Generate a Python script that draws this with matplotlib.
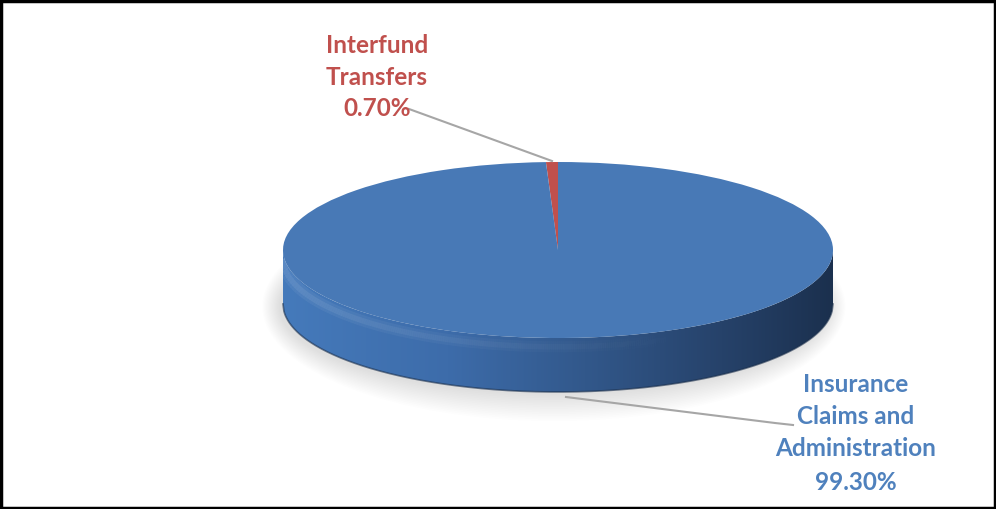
import numpy as np
import matplotlib.pyplot as plt
from matplotlib.patches import Polygon, Rectangle, Ellipse
from matplotlib.colors import to_rgb
from matplotlib.collections import LineCollection

# ---- data ----
names = [["Interfund", "Transfers"], ["Insurance", "Claims and", "Administration"]]
shares = [0.70, 99.30]
slice_colors = ["#c0504d", "#4879b6"]
label_colors = ["#c0504d", "#4f81bd"]

W, H = 996, 509
fig = plt.figure(figsize=(W / 100, H / 100), dpi=100)
fig.set_facecolor("white")

# pie ellipse in pixels (centre, half axes, thickness of the side)
cx, cy = 558, 250
rx, ry = 275, 88
depth = 54

xlim = (-1.05, 1.05)
ylim = (-1.85, 1.0)
l_px = cx + xlim[0] * rx
r_px = cx + xlim[1] * rx
t_px = cy - ylim[1] * ry
b_px = cy - ylim[0] * ry
ax = fig.add_axes([l_px / W, 1 - b_px / H, (r_px - l_px) / W, (b_px - t_px) / H])

t = depth / ry
xs = np.linspace(-1, 1, 600)
front = -np.sqrt(1 - xs ** 2)

# soft shadow under the disc
for k in range(16):
    sh = Ellipse((-0.015, -t - 0.03), 2 * (1.0 + 0.004 * k), 2 * (1.0 + 0.02 * k),
                 facecolor="#9a9a9a", edgecolor="none", alpha=0.016,
                 zorder=0, clip_on=False)
    ax.add_patch(sh)

# side of the disc with a left-to-right gradient
band = Polygon(np.column_stack([np.concatenate([xs, xs[::-1]]),
                                np.concatenate([front, front[::-1] - t])]),
               closed=True, facecolor="white", edgecolor="none", zorder=0.5)
ax.add_patch(band)
stops = [(0.0, "#457abb"), (0.3, "#3d6caa"), (0.55, "#32588b"),
         (0.8, "#26426a"), (1.0, "#1b304e")]
u = np.linspace(0, 1, 256)
img = np.zeros((2, 256, 3))
for c in range(3):
    img[:, :, c] = np.interp(u, [s[0] for s in stops], [to_rgb(s[1])[c] for s in stops])
im = ax.imshow(img, extent=(-1, 1, -1 - t, 0), aspect="auto", zorder=1,
               interpolation="bilinear")
im.set_clip_path(band)

# rounded rim highlight and dark bottom edge
seg_x = np.linspace(-1, 0.5, 200)
for off, lw, amax in [(0.10, 8, 0.06), (0.10, 4, 0.08)]:
    pts = np.column_stack([seg_x, -np.sqrt(1 - seg_x ** 2) - off])
    segs = np.stack([pts[:-1], pts[1:]], axis=1)
    alphas = np.clip(amax * (0.5 - seg_x[:-1]) / 1.5, 0, 1)
    ax.add_collection(LineCollection(segs, colors=[(1, 1, 1, a) for a in alphas],
                                     linewidths=lw, zorder=2, clip_path=band))
ax.plot(xs, front - t, color="#1a2e4a", lw=1.2, alpha=0.6, zorder=2)

wedges, _ = ax.pie(shares, colors=slice_colors, startangle=90, counterclock=True,
                   radius=1, wedgeprops=dict(linewidth=0, zorder=3))
ax.set_aspect("auto")
ax.set_xlim(*xlim)
ax.set_ylim(*ylim)
ax.axis("off")

# ---- labels, leader lines and frame ----
ov = fig.add_axes([0, 0, 1, 1], zorder=5)
ov.set_xlim(0, W)
ov.set_ylim(H, 0)
ov.axis("off")

ov.plot([409, 552], [109, 161], color="#a6a6a6", lw=1.5)
ov.plot([566, 775, 793], [397, 423, 425], color="#a6a6a6", lw=1.5)

font = dict(family="Lato", fontweight="bold", fontsize=17.5, ha="center", va="center")
label_pos = [(377, [45, 77, 108]), (856, [385, 416, 449, 482])]
for name, share, col, (lx, ly) in zip(names, shares, label_colors, label_pos):
    lines = name + [f"{share:.2f}%"]
    for txt, yy in zip(lines, ly):
        ov.text(lx, yy, txt, color=col, **font)

ov.add_patch(Rectangle((1, 1), W - 2, H - 2, fill=False, edgecolor="black", lw=2.5))

fig.savefig("out.png", dpi=100, facecolor="white")
